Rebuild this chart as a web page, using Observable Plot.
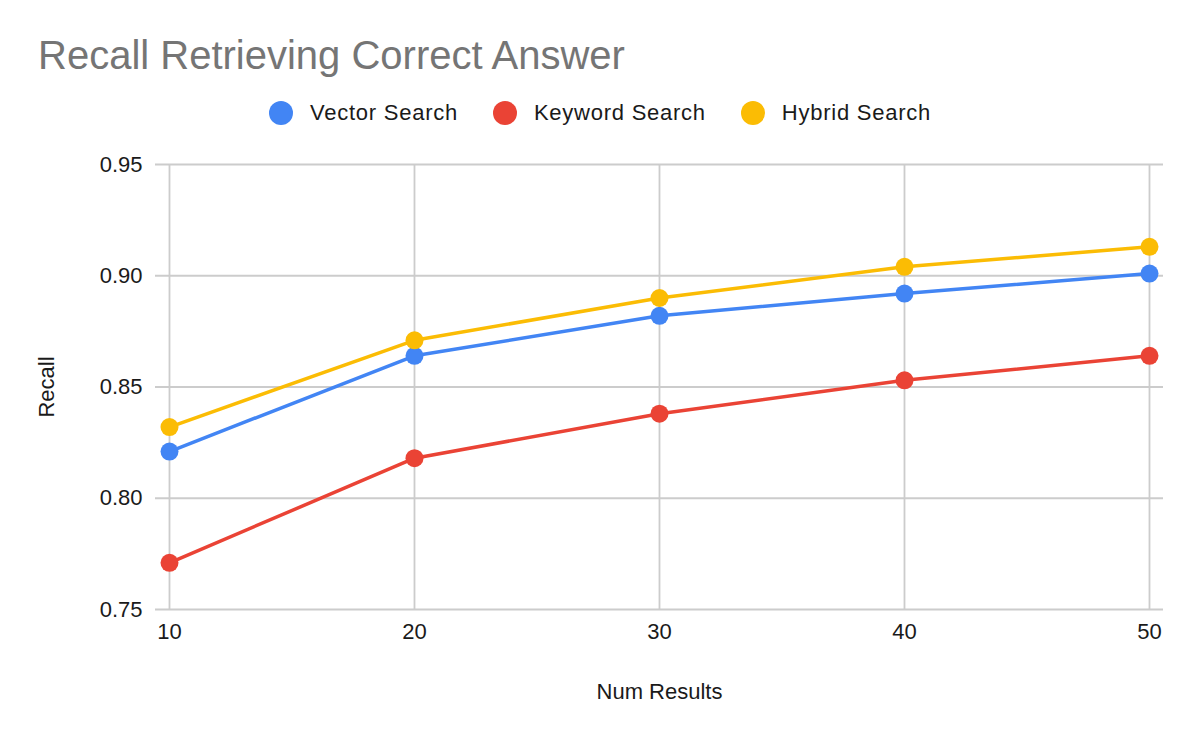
<!DOCTYPE html>
<html><head><meta charset="utf-8">
<script src="https://cdn.jsdelivr.net/npm/d3@7"></script>
<script src="https://cdn.jsdelivr.net/npm/@observablehq/plot@0.6"></script>
<style>
body{margin:0;background:#fff;font-family:"Liberation Sans",Arial,sans-serif;}
#header{position:relative;height:140px;width:1200px;}
#title{position:absolute;left:38px;top:35px;font-size:40px;line-height:1;color:#757575;white-space:nowrap}
#legend{position:absolute;left:0;top:101px;width:1200px;display:flex;justify-content:center;gap:35px;font-size:22px;letter-spacing:0.75px;color:#1a1a1a;line-height:24px}
.item{display:flex;align-items:center;gap:17px}
.sw{width:24px;height:24px;border-radius:50%}
</style></head>
<body>
<div id="header"><div id="title"></div><div id="legend"></div></div>
<div id="chart"></div>
<script>
const titleText = "Recall Retrieving Correct Answer";
const xLabel = "Num Results";
const yLabel = "Recall";
const numResults = [10, 20, 30, 40, 50];
const yTicks = [0.75, 0.80, 0.85, 0.90, 0.95];
const seriesNames = ["Vector Search", "Keyword Search", "Hybrid Search"];
const seriesColors = ["#4285F4", "#EA4335", "#FBBC04"];
const vectorSearch = [0.821, 0.864, 0.882, 0.892, 0.901];
const keywordSearch = [0.771, 0.818, 0.838, 0.853, 0.864];
const hybridSearch = [0.832, 0.871, 0.890, 0.904, 0.913];

const seriesValues = [vectorSearch, keywordSearch, hybridSearch];
const data = [];
seriesNames.forEach((s, i) => numResults.forEach((x, j) => data.push({series: s, x, y: seriesValues[i][j]})));

document.getElementById("title").textContent = titleText;
const legend = document.getElementById("legend");
seriesNames.forEach((s, i) => {
  const it = document.createElement("div"); it.className = "item";
  const sw = document.createElement("div"); sw.className = "sw"; sw.style.background = seriesColors[i];
  const t = document.createElement("span"); t.textContent = s;
  it.appendChild(sw); it.appendChild(t); legend.appendChild(it);
});

const chart = Plot.plot({
  width: 1200, height: 602,
  marginTop: 24, marginBottom: 133, marginLeft: 155, marginRight: 37,
  style: {fontFamily: '"Liberation Sans", Arial, sans-serif', fontSize: "22px", color: "#1a1a1a", background: "#fff"},
  x: {domain: [10, 50], inset: 14},
  y: {domain: [0.75, 0.95]},
  color: {domain: seriesNames, range: seriesColors},
  marks: [
    Plot.ruleY(yTicks, {stroke: "#cccccc", strokeWidth: 1.8, strokeOpacity: 1}),
    Plot.ruleX(numResults, {stroke: "#cccccc", strokeWidth: 1.8, strokeOpacity: 1}),
    Plot.axisX(numResults, {tickSize: 0, tickPadding: 14, tickFormat: d => String(d), label: xLabel, labelAnchor: "center", labelArrow: "none", labelOffset: 89, fontSize: 22}),
    Plot.axisY(yTicks, {tickSize: 0, tickPadding: 13, tickFormat: d3.format(".2f"), label: yLabel, labelAnchor: "center", labelArrow: "none", labelOffset: 117, fontSize: 22}),
    Plot.line(data, {x: "x", y: "y", stroke: "series", z: "series", strokeWidth: 3.5}),
    Plot.dot(data, {x: "x", y: "y", fill: "series", r: 9})
  ]
});
document.getElementById("chart").appendChild(chart);
</script>
</body></html>
